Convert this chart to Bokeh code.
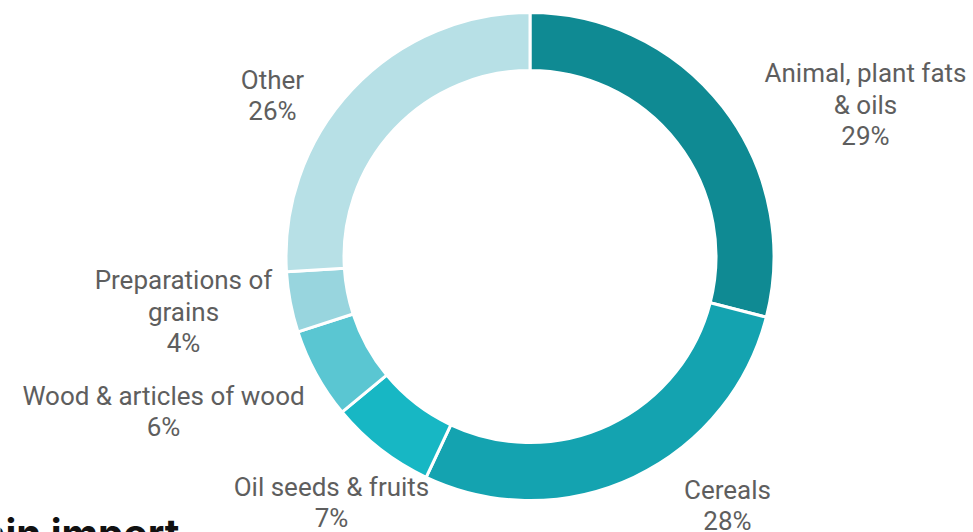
import numpy as np
from bokeh.plotting import figure
from bokeh.models import ColumnDataSource, Range1d
from bokeh.core.properties import value
from bokeh.embed import file_html
from bokeh.resources import INLINE

# ---- data ----
categories = ["Animal, plant fats\n& oils", "Cereals", "Oil seeds & fruits",
              "Wood & articles of wood", "Preparations of\ngrains", "Other"]
shares = [29, 28, 7, 6, 4, 26]
colors = ["#0f8a93", "#14a3b0", "#17b7c4", "#5ac6d2", "#98d5de", "#b7e0e6"]
title_text = ["Main import"]

# ---- layout (page pixels) ----
W, H = 973, 532
CX, CY = 529.5, 256          # donut centre (page px)
R_OUT, R_IN = 244, 186
label_pos = [(865, 104), (727, 505), (331, 502), (163, 411), (183, 311), (272, 95)]
title_pos = (179, 508)

def px(x):
    return x

def py(y):
    return H - y

vals = np.array(shares, dtype=float)
frac = vals / vals.sum()
cum = np.concatenate([[0], np.cumsum(frac)])
start = np.pi / 2 - 2 * np.pi * cum[:-1]
end = np.pi / 2 - 2 * np.pi * cum[1:]

src = ColumnDataSource(dict(
    x=[px(CX)] * len(vals), y=[py(CY)] * len(vals),
    start=start, end=end, color=colors,
))

p = figure(width=W, height=H, output_backend="svg", toolbar_location=None,
           x_range=Range1d(0, W), y_range=Range1d(0, H),
           min_border=0, outline_line_color=None)
p.axis.visible = False
p.grid.visible = False
p.background_fill_color = "white"

p.annular_wedge(x="x", y="y", inner_radius=R_IN, outer_radius=R_OUT,
                inner_radius_units="screen", outer_radius_units="screen",
                start_angle="start", end_angle="end", direction="clock",
                fill_color="color", line_color="white", line_width=3,
                source=src)

lab_text = [f"{c}\n{s}%" for c, s in zip(categories, shares)]
lsrc = ColumnDataSource(dict(
    x=[px(a) for a, b in label_pos], y=[py(b) for a, b in label_pos],
    t=lab_text,
))
p.text(x="x", y="y", text="t", source=lsrc, text_align="center",
       text_baseline="middle", text_font=value("Roboto"),
       text_font_size="26px", text_color="#5e5e5e", text_line_height=1.05)

tsrc = ColumnDataSource(dict(x=[px(title_pos[0])], y=[py(title_pos[1])], t=title_text))
p.text(x="x", y="y", text="t", source=tsrc, text_align="right",
       text_baseline="top", text_font=value("Inter"),
       text_font_style="bold", text_font_size="40px", text_color="#111111")

open("out.html", "w").write(file_html(p, INLINE))
